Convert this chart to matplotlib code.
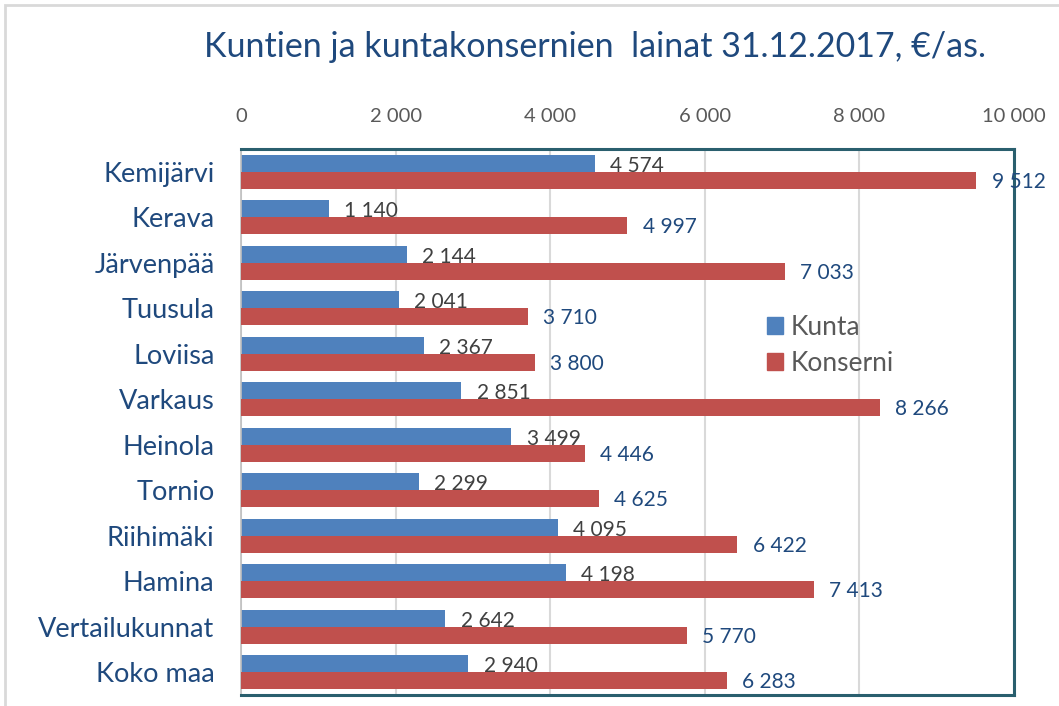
import matplotlib.pyplot as plt
import numpy as np
from matplotlib.patches import Patch, Rectangle

plt.rcParams['font.family'] = ['Lato', 'DejaVu Sans']

kunnat = ['Kemijärvi', 'Kerava', 'Järvenpää', 'Tuusula', 'Loviisa', 'Varkaus',
          'Heinola', 'Tornio', 'Riihimäki', 'Hamina', 'Vertailukunnat', 'Koko maa']
kunta = [4574, 1140, 2144, 2041, 2367, 2851, 3499, 2299, 4095, 4198, 2642, 2940]
konserni = [9512, 4997, 7033, 3710, 3800, 8266, 4446, 4625, 6422, 7413, 5770, 6283]
xticks = [0, 2000, 4000, 6000, 8000, 10000]

blue = '#4F81BD'
red = '#C0504D'
dark_blue = '#1F497D'
gray_txt = '#595959'

def fmt(v):
    return f'{v:,}'.replace(',', ' ')

fig = plt.figure(figsize=(10.59, 7.06), dpi=100)
ax = fig.add_axes([241 / 1059, 1 - 695 / 706, (1014 - 241) / 1059, (695 - 149) / 706])

y = np.arange(len(kunnat))
h = 0.375
ax.barh(y - h / 2, kunta, height=h, color=blue, zorder=2)
ax.barh(y + h / 2, konserni, height=h, color=red, zorder=4)

for i in range(len(kunnat)):
    ax.annotate(fmt(kunta[i]), (kunta[i], y[i] - h / 2), xytext=(11, -2),
                textcoords='offset points', va='center', ha='left',
                fontsize=15, color='#404040', zorder=3)
    ax.annotate(fmt(konserni[i]), (konserni[i], y[i] + h / 2), xytext=(11, -1),
                textcoords='offset points', va='center', ha='left',
                fontsize=15, color=dark_blue, zorder=5, annotation_clip=False)

ax.set_xlim(0, 10000)
ax.set_ylim(len(kunnat) - 0.5, -0.5)
ax.set_xticks(xticks)
ax.set_xticklabels([fmt(t) for t in xticks])
ax.xaxis.tick_top()
ax.tick_params(axis='x', length=0, pad=17, labelsize=14.5, labelcolor=gray_txt)
ax.set_yticks(y)
ax.set_yticklabels(kunnat)
ax.tick_params(axis='y', length=0, pad=19, labelsize=19.5, labelcolor=dark_blue)

ax.grid(axis='x', color='#D9D9D9', linewidth=1.5, zorder=0)
ax.set_axisbelow(True)
for s in ['top', 'right', 'bottom']:
    ax.spines[s].set_color('#2A5F6E')
    ax.spines[s].set_linewidth(2.2)
ax.spines['left'].set_color('#BFBFBF')
ax.spines['left'].set_linewidth(1.2)

handles = [Patch(color=blue, label='Kunta'), Patch(color=red, label='Konserni')]
fig.legend(handles=handles, loc='upper left', bbox_to_anchor=(743 / 1059, 1 - 291 / 706),
           frameon=False, fontsize=19, handlelength=0.6, handleheight=0.6,
           handletextpad=0.3, labelspacing=0.42, labelcolor=gray_txt)

fig.text(595 / 1059, 1 - 47 / 706, 'Kuntien ja kuntakonsernien  lainat 31.12.2017, €/as.',
         ha='center', va='center', fontsize=24.5, color=dark_blue)

fig.patches.append(Rectangle((5 / 1059, -0.1), 1.2, 1 - 5 / 706 + 0.1,
                             transform=fig.transFigure, fill=False,
                             edgecolor='#D9D9D9', linewidth=2))

fig.savefig('out.png', dpi=100)
